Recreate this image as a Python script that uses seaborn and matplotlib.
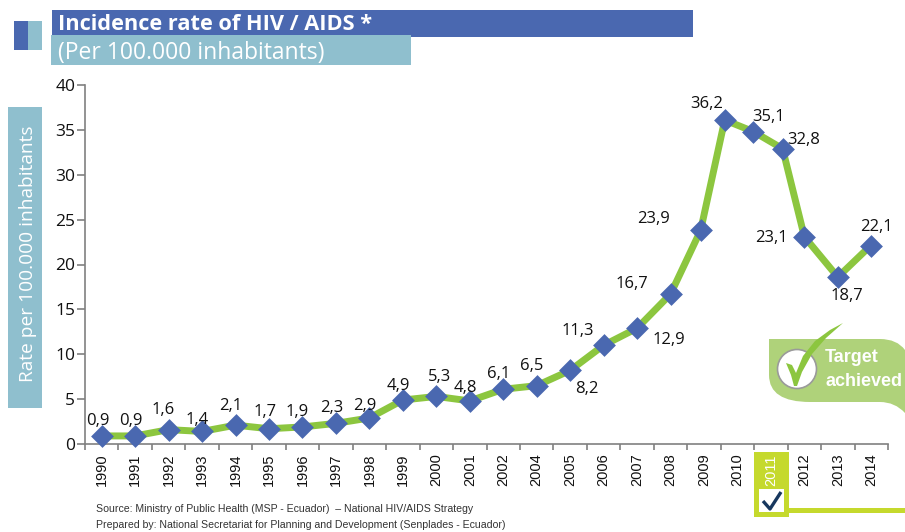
import matplotlib
matplotlib.use("Agg")
import matplotlib.patches as mpatches
import matplotlib.pyplot as plt
import pandas as pd
import seaborn as sns
from matplotlib.path import Path

years = ["1990", "1991", "1992", "1993", "1994", "1995", "1996", "1997", "1998", "1999", "2000", "2001",
         "2002", "2004", "2005", "2006", "2007", "2008", "2009", "2010", "2011", "2012", "2013", "2014"]
# the original's points drift off the tick slots at the right end, hence slot positions
slots = [0, 1, 2, 3, 4, 5, 6, 7, 8, 9, 10, 11, 12, 13, 14, 15, 16, 17, 17.9, 18.62, 19.48, 20.35, 21.0, 22.0, 22.98]
rates = [0.9, 0.9, 1.6, 1.4, 2.1, 1.7, 1.9, 2.3, 2.9, 4.9, 5.3, 4.8, 6.1, 6.5, 8.2, 11.0, 12.9, 16.7, 23.8,
         36.1, 34.8, 32.9, 23.1, 18.6, 22.1]
labels = ["0,9", "0,9", "1,6", "1,4", "2,1", "1,7", "1,9", "2,3", "2,9", "4,9", "5,3", "4,8", "6,1", "6,5", "8,2",
          "11,3", "12,9", "16,7", "23,9", "36,2", "35,1", "32,8", "23,1", "18,7", "22,1"]
# label offsets in pixels from the point
offs = [(-4, 18), (-4, 18), (-5, 23), (-5, 14), (-5, 22), (-4, 20), (-5, 18), (-4, 18), (-5, 15), (-5, 17), (3, 22),
        (-4, 16), (-5, 18), (-5, 23), (17, -16), (-26, 17), (32, -9), (-39, 13), (-47, 14), (-18, 19), (15, 18),
        (21, 12), (-33, 2), (9, -16), (6, 22)]

sns.set_theme(style="white")
plt.rcParams["font.family"] = ["Open Sans", "DejaVu Sans"]

df = pd.DataFrame({"slot": slots, "rate": rates})

fig = plt.figure(figsize=(9.05, 5.32), dpi=100)
W, H = 905, 532
ax = fig.add_axes([85 / W, 1 - 444 / H, (888 - 85) / W, (444 - 85) / H])
ax.patch.set_alpha(0)

sns.lineplot(data=df, x="slot", y="rate", ax=ax, color="#8cc63f", linewidth=5, zorder=2, clip_on=False)
sns.scatterplot(data=df, x="slot", y="rate", ax=ax, color="#4a68b0", marker="D", s=135, linewidth=0, zorder=3,
                clip_on=False)

ax.set_xlim(-0.5, 23.5)
ax.set_ylim(0, 40)
ax.set_xlabel("")
ax.set_ylabel("")
ax.set_yticks(range(0, 45, 5))
ax.set_xticks([i - 0.5 for i in range(25)])
ax.set_xticklabels([])
ax.tick_params(axis="x", length=4, width=1.2, color="#808080", bottom=True)
ax.tick_params(axis="y", length=5.5, width=1.2, color="#808080", left=True, pad=1.5, labelsize=12.5,
               labelcolor="#111111")
for s in ["top", "right"]:
    ax.spines[s].set_visible(False)
for s in ["left", "bottom"]:
    ax.spines[s].set_color("#808080")
    ax.spines[s].set_linewidth(1.2)

for x, y, t, (dx, dy) in zip(slots, rates, labels, offs):
    ax.annotate(t, (x, y), xytext=(dx * 0.72, (dy - 3) * 0.72), textcoords="offset points", ha="center", va="center",
                fontsize=12, color="#111111", zorder=4)

# overlay in reference pixels for the banners, badge and footer
ov = fig.add_axes([0, 0, 1, 1], zorder=-1)
ov.set_xlim(0, W)
ov.set_ylim(H, 0)
ov.axis("off")
top = fig.add_axes([0, 0, 1, 1], zorder=5)
top.set_xlim(0, W)
top.set_ylim(H, 0)
top.axis("off")
top.patch.set_alpha(0)


def box(a, x0, y0, x1, y1, color):
    a.add_patch(mpatches.Rectangle((x0, y0), x1 - x0, y1 - y0, color=color, linewidth=0))


box(ov, 52, 10, 693, 37, "#4a68b0")
box(ov, 51, 35, 411, 65, "#8fbfce")
box(ov, 14, 21, 28, 50, "#4a68b0")
box(ov, 28, 21, 42, 50, "#8fbfce")
box(ov, 8, 107, 42, 408, "#8fbfce")

top.text(58, 25, "Incidence rate of HIV / AIDS *", color="white", fontsize=15.7, fontweight="bold", va="center")
top.text(58, 53, "(Per 100.000 inhabitants)", color="white", fontsize=16.5, va="center")
top.text(28, 254, "Rate per 100.000 inhabitants", color="white", fontsize=13.8, rotation=90, ha="center", va="center")

# 2011 highlight
box(ov, 754, 452, 789, 517, "#c5d92d")
box(ov, 759, 489, 784, 512, "white")
box(ov, 789, 508, 905, 513, "#c5d92d")

tick_font = ["Liberation Sans"]
for i, yr in enumerate(years):
    px = 85 + (i + 0.5) * (888 - 85) / 24
    top.text(px, 470, yr, rotation=90, ha="center", va="center", fontsize=10.5, family=tick_font,
             color="white" if yr == "2011" else "#111111")

top.plot([763, 770, 781], [501, 509, 492], color="#17375e", linewidth=2.4, solid_capstyle="butt")

# Target achieved badge
badge = Path([(769, 339), (880, 339), (897, 339), (905, 350), (905, 413), (895, 402), (880, 402), (810, 402),
              (769, 402), (769, 375), (769, 339)],
             [Path.MOVETO, Path.LINETO, Path.CURVE3, Path.CURVE3, Path.LINETO, Path.CURVE3, Path.CURVE3, Path.LINETO,
              Path.CURVE3, Path.CURVE3, Path.CLOSEPOLY])
top.add_patch(mpatches.PathPatch(badge, facecolor="#afd27a", edgecolor="none"))
top.add_patch(mpatches.Circle((797, 369), 19.5, facecolor="white", edgecolor="#9a9a9a", linewidth=1.2))
top.add_patch(mpatches.Polygon([(786, 363), (792, 365), (796, 373), (803, 356), (815, 341), (830, 330), (843, 323),
                                (826, 338), (812, 354), (802, 372), (797, 386), (794, 386), (791, 375)],
                               facecolor="#8cc63f", edgecolor="none"))
top.text(825, 358, "Target", color="white", fontsize=13, fontweight="bold", family=tick_font, va="center")
top.text(825, 381, "achieved", color="white", fontsize=13, fontweight="bold", family=tick_font, va="center")

top.text(96, 509, "Source: Ministry of Public Health (MSP - Ecuador)  \u2013 National HIV/AIDS Strategy", fontsize=7.6,
         family=tick_font, color="#333333", va="center")
top.text(96, 525, "Prepared by: National Secretariat for Planning and Development (Senplades - Ecuador)", fontsize=7.6,
         family=tick_font, color="#333333", va="center")

fig.savefig("out.png", dpi=100)
